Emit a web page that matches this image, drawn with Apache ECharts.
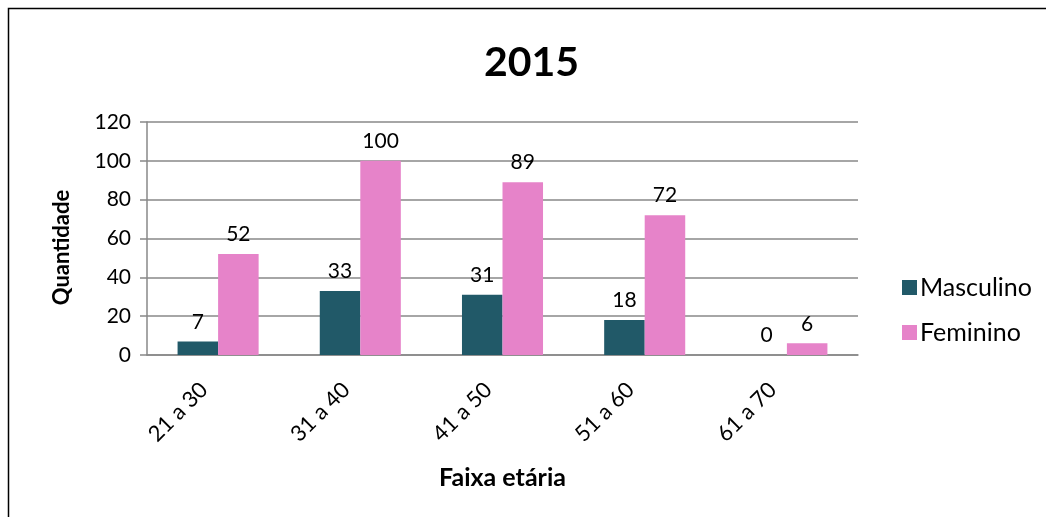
<!DOCTYPE html>
<html>
<head>
<meta charset="utf-8">
<script src="https://cdn.jsdelivr.net/npm/echarts@6/dist/echarts.min.js"></script>
<style>
  html, body { margin: 0; padding: 0; background: #fff; }
  #chart { width: 1046px; height: 517px; }
</style>
</head>
<body>
<div id="chart"></div>
<script>
var categories = ["21 a 30", "31 a 40", "41 a 50", "51 a 60", "61 a 70"];
var masculino = [7, 33, 31, 18, 0];
var feminino = [52, 100, 89, 72, 6];
var yTicks = [0, 20, 40, 60, 80, 100, 120];

var font = "Lato, 'Open Sans', sans-serif";
var myChart = echarts.init(document.getElementById("chart"));

myChart.setOption({
  backgroundColor: "#fff",
  animation: false,
  textStyle: { fontFamily: font, color: "#000" },
  graphic: [
    {
      type: "rect",
      shape: { x: 8.5, y: 8.5, width: 1060, height: 540 },
      style: { fill: "none", stroke: "#000", lineWidth: 1.5 },
      silent: true
    }
  ],
  title: {
    text: "2015",
    left: 479,
    top: 37,
    textStyle: { fontFamily: font, fontSize: 41, fontWeight: "bold", color: "#000" }
  },
  legend: {
    orient: "vertical",
    left: 897,
    top: 270,
    itemWidth: 15,
    itemHeight: 15,
    itemGap: 20,
    icon: "rect",
    data: ["Masculino", "Feminino"],
    textStyle: { fontFamily: font, fontSize: 25, color: "#000", padding: [0, 0, 0, -2] }
  },
  grid: { left: 147, right: 188, top: 122, bottom: 162 },
  xAxis: {
    type: "category",
    data: categories,
    name: "Faixa etária",
    nameLocation: "middle",
    nameGap: 110,
    nameTextStyle: { fontFamily: font, fontSize: 25, fontWeight: "bold", color: "#000" },
    axisLine: { lineStyle: { color: "#888", width: 1.5 } },
    axisTick: { show: false },
    axisLabel: {
      rotate: 45,
      margin: 17,
      padding: [0, 20, 0, 0],
      fontFamily: font,
      fontSize: 22,
      color: "#000"
    }
  },
  yAxis: {
    type: "value",
    min: yTicks[0],
    max: yTicks[yTicks.length - 1],
    interval: 20,
    name: "Quantidade",
    nameLocation: "middle",
    nameGap: 74,
    nameTextStyle: {
      fontFamily: font,
      fontSize: 22,
      fontWeight: "bold",
      color: "#000",
      padding: [0, 18, 0, 0]
    },
    axisLine: { show: true, lineStyle: { color: "#888", width: 1.5 } },
    axisTick: { show: true, length: 7, lineStyle: { color: "#888", width: 1.5 } },
    axisLabel: { margin: 16, fontFamily: font, fontSize: 21, color: "#000" },
    splitLine: { lineStyle: { color: "#888", width: 1.5 } }
  },
  series: [
    {
      name: "Masculino",
      type: "bar",
      data: masculino,
      barGap: "0%",
      barCategoryGap: "43%",
      itemStyle: { color: "#215968" },
      label: {
        show: true,
        position: "top",
        distance: 9,
        fontFamily: font,
        fontSize: 21,
        color: "#000"
      }
    },
    {
      name: "Feminino",
      type: "bar",
      data: feminino,
      itemStyle: { color: "#E683C9" },
      label: {
        show: true,
        position: "top",
        distance: 9,
        fontFamily: font,
        fontSize: 21,
        color: "#000"
      }
    }
  ]
});
</script>
</body>
</html>
